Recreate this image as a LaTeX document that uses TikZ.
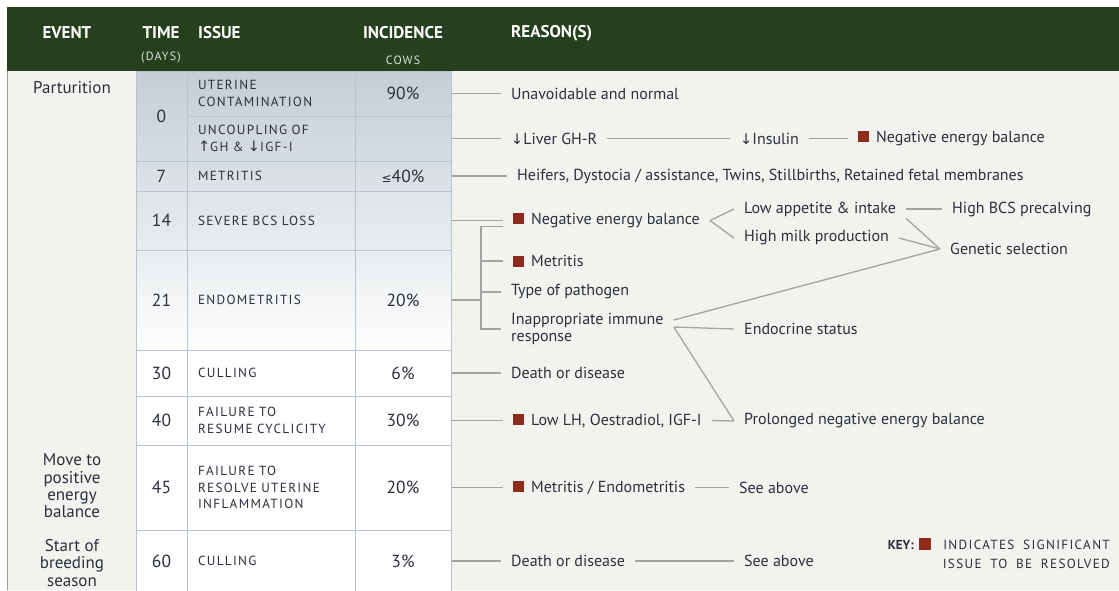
\documentclass[tikz,border=0pt]{standalone}
\usepackage{fontspec}
\setmainfont{PT Sans}
\newfontfamily\capsfont[LetterSpace=10,WordSpace=1.8]{PT Sans}
\newfontfamily\symfont{DejaVu Sans}
\definecolor{hdrgreen}{HTML}{263F1D}
\definecolor{panel}{HTML}{F2F3EE}
\definecolor{ink}{HTML}{2B303C}
\definecolor{grid}{HTML}{B7C2D3}
\definecolor{wire}{HTML}{A3A3A3}
\definecolor{sigred}{HTML}{8E2B1A}
\definecolor{tabtop}{HTML}{C4CED5}
\definecolor{rim}{HTML}{9B9E8E}
\newcommand{\sigbox}{\textcolor{sigred}{\rule{11pt}{11pt}}\hspace{7pt}}
\newcommand{\dnarr}{{\symfont\fontsize{14.5}{15}\selectfont ↓}}
\newcommand{\uparr}{{\symfont\fontsize{14.5}{15}\selectfont ↑}}
\begin{document}
\begin{tikzpicture}[x=1pt,y=-1pt]
		\tikzstyle{head}=[text=white,font=\fontsize{17}{18}\selectfont\bfseries,inner sep=0pt]
		\tikzstyle{headsub}=[text=white!85!hdrgreen,font=\capsfont\fontsize{12}{13}\selectfont,inner sep=0pt]
		\tikzstyle{cell}=[draw=grid,line width=1pt,text=ink,inner sep=0pt,font=\fontsize{17.5}{18}\selectfont]
		\tikzstyle{issue}=[cell,font=\capsfont\fontsize{13.2}{16.5}\selectfont,align=left,text width=146pt,inner xsep=11pt]
		\tikzstyle{event}=[text=ink,font=\fontsize{17}{17.4}\selectfont,align=center,inner sep=0pt]
		\tikzstyle{reason}=[anchor=west,text=ink,font=\fontsize{16}{17}\selectfont,inner xsep=10pt,inner ysep=2pt,align=left]
		\tikzstyle{keycaps}=[anchor=east,text=ink,font=\capsfont\fontsize{13.2}{15}\selectfont,inner sep=0pt]
		\tikzstyle{link}=[draw=wire,line width=1.3pt]
		
		\useasboundingbox (0,0) rectangle (1119,590);
		\fill[hdrgreen] (7,7) rectangle (1119,71);
		\fill[panel] (7,71) rectangle (1119,590);
		\draw[rim,line width=1pt] (7.5,71) -- (7.5,590);
		\fill[white] (136,71) rectangle (451,590);
		\shade[top color=tabtop,bottom color=white] (136,71) rectangle (451,355);
		
		\node[head] (hevent) at (67,33) {EVENT};
		\node[head] (htime) at (161,33) {TIME};
		\node[headsub] (hdays) at (161,58) {(DAYS)};
		\node[head,anchor=west] (hissue) at (198,33) {ISSUE};
		\node[head] (hinc) at (403,33) {INCIDENCE};
		\node[headsub] (hcows) at (403,60) {COWS};
		\node[head,anchor=west] (hreason) at (511,33) {REASON(S)};
		
		\node[event] (part) at (72,88) {Parturition};
		\node[event] (move) at (72,486) {Move to\\positive\\energy\\balance};
		\node[event] (breed) at (72,563) {Start of\\breeding\\season};
		
		\node[cell,minimum width=51pt,minimum height=90pt] (t0) at (161.5,116) {0};
		\node[issue,minimum height=45pt] (i0a) at (271,93.5) {UTERINE\\CONTAMINATION};
		\node[issue,minimum height=45pt] (i0b) at (271,138.5) {UNCOUPLING OF\\\uparr GH \& \dnarr IGF-I};
		\node[cell,minimum width=96pt,minimum height=45pt] (p0a) at (403,93.5) {90\%};
		\node[cell,minimum width=96pt,minimum height=45pt] (p0b) at (403,138.5) {};
		
		\node[cell,minimum width=51pt,minimum height=30pt] (t7) at (161.5,176) {7};
		\node[issue,minimum height=30pt] (i7) at (271,176) {METRITIS};
		\node[cell,minimum width=96pt,minimum height=30pt] (p7) at (403,176) {{\symfont\fontsize{12}{14}\selectfont ≤}40\%};
		
		\node[cell,minimum width=51pt,minimum height=59pt] (t14) at (161.5,220.5) {14};
		\node[issue,minimum height=59pt] (i14) at (271,220.5) {SEVERE BCS LOSS};
		\node[cell,minimum width=96pt,minimum height=59pt] (p14) at (403,220.5) {};
		
		\node[cell,minimum width=51pt,minimum height=100pt] (t21) at (161.5,300) {21};
		\node[issue,minimum height=100pt] (i21) at (271,300) {ENDOMETRITIS};
		\node[cell,minimum width=96pt,minimum height=100pt] (p21) at (403,300) {20\%};
		
		\node[cell,minimum width=51pt,minimum height=46pt] (t30) at (161.5,373) {30};
		\node[issue,minimum height=46pt] (i30) at (271,373) {CULLING};
		\node[cell,minimum width=96pt,minimum height=46pt] (p30) at (403,373) {6\%};
		
		\node[cell,minimum width=51pt,minimum height=49pt] (t40) at (161.5,420.5) {40};
		\node[issue,minimum height=49pt] (i40) at (271,420.5) {FAILURE TO\\RESUME CYCLICITY};
		\node[cell,minimum width=96pt,minimum height=49pt] (p40) at (403,420.5) {30\%};
		
		\node[cell,minimum width=51pt,minimum height=85pt] (t45) at (161.5,487.5) {45};
		\node[issue,minimum height=85pt] (i45) at (271,487.5) {FAILURE TO\\RESOLVE UTERINE\\INFLAMMATION};
		\node[cell,minimum width=96pt,minimum height=85pt] (p45) at (403,487.5) {20\%};
		
		\node[cell,minimum width=51pt,minimum height=62pt] (t60) at (161.5,561) {60};
		\node[issue,minimum height=62pt] (i60) at (271,561) {CULLING};
		\node[cell,minimum width=96pt,minimum height=62pt] (p60) at (403,561) {3\%};
		
		\node[reason] (unav) at (501,93.5) {Unavoidable and normal};
		\node[reason] (liver) at (501,138.5) {\dnarr Liver GH-R};
		\node[reason] (insul) at (730,138.5) {\dnarr Insulin};
		\node[reason] (nebtop) at (848,138.5) {\sigbox Negative energy balance};
		\node[reason] (heif) at (507,176) {Heifers, Dystocia / assistance, Twins, Stillbirths, Retained fetal membranes};
		\node[reason] (neb) at (503,220.5) {\sigbox Negative energy balance};
		\node[reason] (lowapp) at (734,209) {Low appetite \& intake};
		\node[reason] (bcs) at (942,209) {High BCS precalving};
		\node[reason] (milk) at (734,238) {High milk production};
		\node[reason] (gen) at (940,249) {Genetic selection};
		\node[reason] (met) at (503,261) {\sigbox Metritis};
		\node[reason] (path) at (501,292) {Type of pathogen};
		\node[reason] (imm) at (501,329) {Inappropriate immune\\response};
		\node[reason] (endo) at (734,329) {Endocrine status};
		\node[reason] (death) at (501,373) {Death or disease};
		\node[reason] (lowlh) at (503,420.5) {\sigbox Low LH, Oestradiol, IGF-I};
		\node[reason] (prol) at (734,421) {Prolonged negative energy balance};
		\node[reason] (metendo) at (503,487.5) {\sigbox Metritis / Endometritis};
		\node[reason] (seea) at (729,487.5) {See above};
		\node[reason] (deathb) at (501,561) {Death or disease};
		\node[reason] (seeb) at (734,561) {See above};
		\coordinate (brk) at (481,300);
		
		\node[keycaps] (key1) at (1110,545) {INDICATES SIGNIFICANT};
		\node[keycaps] (key2) at (1110,564) {ISSUE TO BE RESOLVED};
		\node[anchor=base east,text=ink,inner sep=0pt,font=\fontsize{13}{15}\selectfont\bfseries] (keylbl) at ([xshift=-12pt]key1.base west) {KEY:\hspace{5pt}\textcolor{sigred}{\rule{12pt}{12pt}}};
		
		\draw[link] (p0a.east) -- (unav.west);
		\draw[link] (p0b.east) -- (liver.west);
		\draw[link] (liver.east) -- (insul.west);
		\draw[link] (insul.east) -- (nebtop.west);
		\draw[link] (p7.east) -- (heif.west);
		\draw[link] (p14.east) -- (neb.west);
		\draw[link] ([yshift=-6pt]neb.west) -| (brk) |- (imm.west);
		\draw[link] (p21.east) -- (brk);
		\draw[link] (met.west) -- (met.west -| brk);
		\draw[link] (path.west) -- (path.west -| brk);
		\draw[link] (neb.east) -- (lowapp.west);
		\draw[link] (neb.east) -- (milk.west);
		\draw[link] (lowapp.east) -- (bcs.west);
		\draw[link] (lowapp.south east) -- (gen.west);
		\draw[link] (milk.east) -- (gen.west);
		\draw[link] ([yshift=9pt]imm.east) -- (gen.west);
		\draw[link] ([yshift=2pt]imm.east) -- (endo.west);
		\draw[link] ([yshift=2pt]imm.east) -- (prol.west);
		\draw[link] (p30.east) -- (death.west);
		\draw[link] (p40.east) -- (lowlh.west);
		\draw[link] (lowlh.east) -- (prol.west);
		\draw[link] (p45.east) -- (metendo.west);
		\draw[link] (metendo.east) -- (seea.west);
		\draw[link] (p60.east) -- (deathb.west);
		\draw[link] (deathb.east) -- (seeb.west);
\end{tikzpicture}
\end{document}
